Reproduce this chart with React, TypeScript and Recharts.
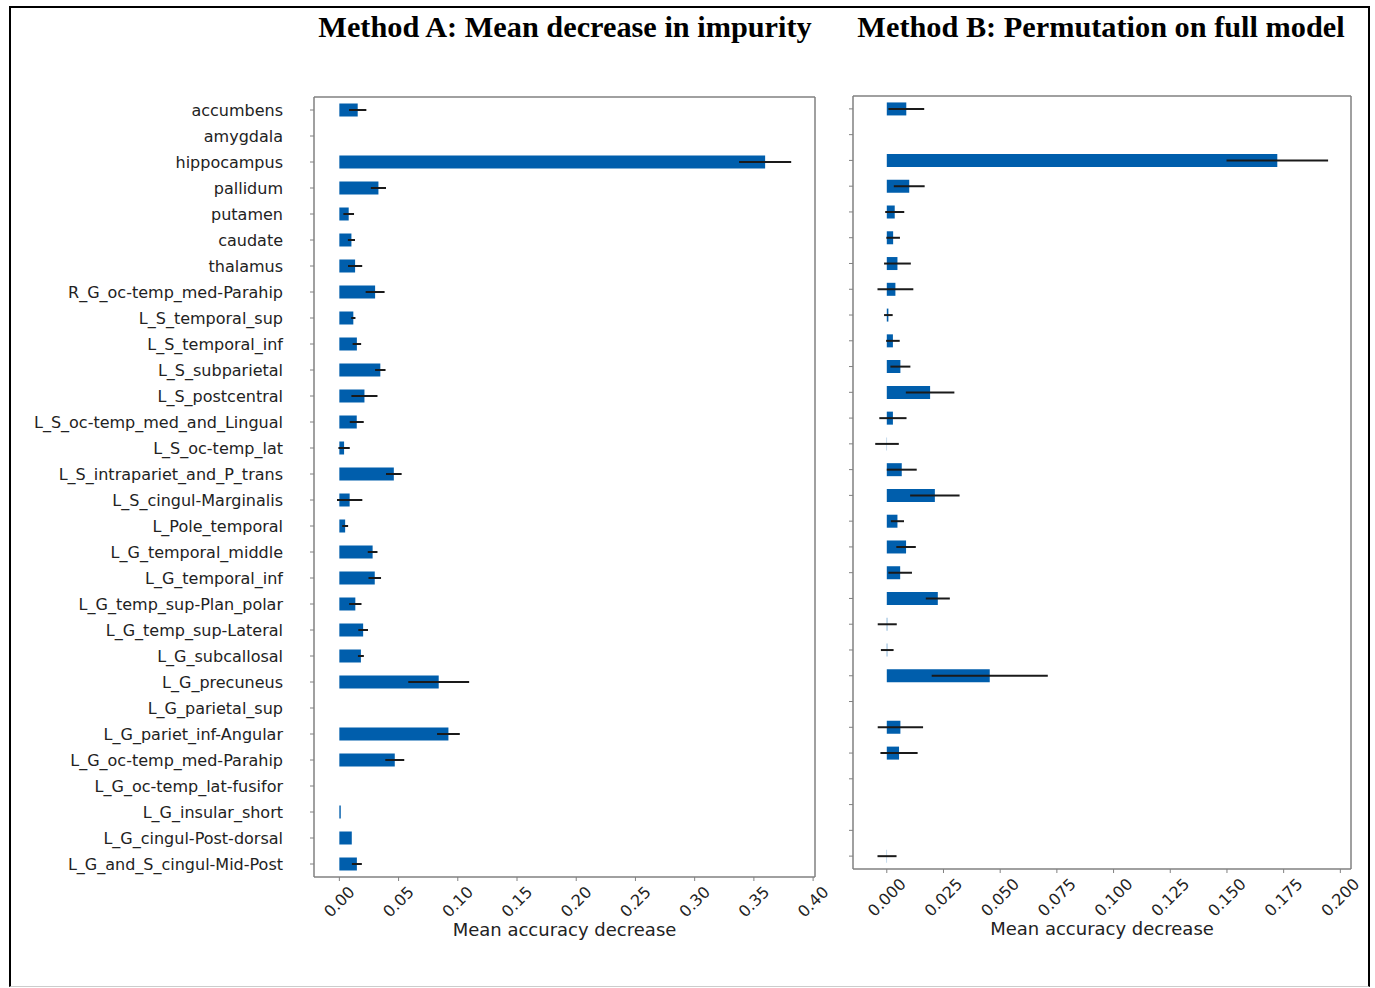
import React from "react";
import { Bar, BarChart, ErrorBar, XAxis, YAxis } from "recharts";

const regions = [
  "accumbens",
  "amygdala",
  "hippocampus",
  "pallidum",
  "putamen",
  "caudate",
  "thalamus",
  "R_G_oc-temp_med-Parahip",
  "L_S_temporal_sup",
  "L_S_temporal_inf",
  "L_S_subparietal",
  "L_S_postcentral",
  "L_S_oc-temp_med_and_Lingual",
  "L_S_oc-temp_lat",
  "L_S_intrapariet_and_P_trans",
  "L_S_cingul-Marginalis",
  "L_Pole_temporal",
  "L_G_temporal_middle",
  "L_G_temporal_inf",
  "L_G_temp_sup-Plan_polar",
  "L_G_temp_sup-Lateral",
  "L_G_subcallosal",
  "L_G_precuneus",
  "L_G_parietal_sup",
  "L_G_pariet_inf-Angular",
  "L_G_oc-temp_med-Parahip",
  "L_G_oc-temp_lat-fusifor",
  "L_G_insular_short",
  "L_G_cingul-Post-dorsal",
  "L_G_and_S_cingul-Mid-Post",
];

// Method A: mean decrease in impurity (null = region not used)
const impurityMean = [
  0.0155, null, 0.3595, 0.033, 0.0079, 0.0102, 0.0133, 0.0302, 0.0118, 0.0148,
  0.0346, 0.0212, 0.0147, 0.004, 0.046, 0.0087, 0.0049, 0.0281, 0.0299, 0.0135,
  0.0201, 0.0182, 0.0839, null, 0.0921, 0.0468, null, 0.0012, 0.0105, 0.0148,
];
const impurityStd = [
  0.0073, null, 0.022, 0.0064, 0.0045, 0.003, 0.006, 0.008, 0.0018, 0.0036,
  0.0044, 0.011, 0.0059, 0.0048, 0.0066, 0.0107, 0.0025, 0.0041, 0.0053, 0.0052,
  0.0041, 0.0025, 0.0257, null, 0.0096, 0.008, null, null, null, 0.0042,
];

// Method B: permutation importance on the full model
const permutationMean = [
  0.0086, null, 0.1722, 0.0099, 0.0035, 0.0028, 0.0047, 0.0038, 0.0007, 0.0027,
  0.006, 0.0191, 0.0027, 0.0001, 0.0066, 0.0212, 0.0047, 0.0085, 0.0059, 0.0225,
  0.0002, 0.0002, 0.0454, null, 0.006, 0.0054, null, null, null, 0.0001,
];
const permutationStd = [
  0.0079, null, 0.0224, 0.0068, 0.0042, 0.003, 0.0059, 0.0079, 0.0019, 0.003,
  0.0044, 0.0107, 0.006, 0.0052, 0.0066, 0.0109, 0.0029, 0.0043, 0.0052, 0.0053,
  0.0042, 0.0028, 0.0256, null, 0.01, 0.0082, null, null, null, 0.0042,
];

const impurityTicks = [0, 0.05, 0.1, 0.15, 0.2, 0.25, 0.3, 0.35, 0.4];
const permutationTicks = [0, 0.025, 0.05, 0.075, 0.1, 0.125, 0.15, 0.175, 0.2];

const BAR_COLOR = "#005EAC";
const SPINE = { stroke: "#808080", strokeWidth: 1.5 };
const FONT = "'DejaVu Sans', sans-serif";
const TEXT = "#222";

const impurityRows = regions.map((name, i) => ({
  name,
  value: impurityMean[i],
  err: impurityStd[i],
}));
const permutationRows = regions.map((name, i) => ({
  name,
  value: permutationMean[i],
  err: permutationStd[i],
}));

// matplotlib-style 45° tick label, its bounding box centred under the tick
function RotatedTick(props: any) {
  const { x, y, payload, digits } = props;
  const label = Number(payload.value).toFixed(digits);
  const w = label.length * 10.18 - 5.09;
  const cy = y + (w + 12) / (2 * Math.SQRT2);
  return (
    <text
      x={x}
      y={cy}
      transform={`rotate(-45 ${x} ${cy})`}
      textAnchor="middle"
      dominantBaseline="central"
      fontSize={16}
      fontFamily={FONT}
      fill={TEXT}
    >
      {label}
    </text>
  );
}

const axisLabel = (offset: number) => ({
  value: "Mean accuracy decrease",
  position: "insideBottom" as const,
  offset,
  fontSize: 18,
  fontFamily: FONT,
  fill: TEXT,
});

function ImpurityPanel() {
  return (
    <BarChart
      layout="vertical"
      width={850}
      height={960}
      data={impurityRows}
      margin={{ top: 96, right: 34, bottom: 23, left: 14 }}
      barCategoryGap="25%"
    >
      <XAxis
        type="number"
        domain={[-0.0214, 0.4016]}
        allowDataOverflow
        ticks={impurityTicks}
        interval={0}
        height={60}
        tickSize={4}
        tickMargin={4}
        stroke="#808080"
        axisLine={SPINE}
        tick={<RotatedTick digits={2} />}
        label={axisLabel(1)}
      />
      <XAxis
        xAxisId="top"
        orientation="top"
        type="number"
        domain={[-0.0214, 0.4016]}
        allowDataOverflow
        height={1}
        tick={false}
        tickLine={false}
        axisLine={SPINE}
      />
      <YAxis
        type="category"
        dataKey="name"
        width={300}
        interval={0}
        tickSize={4}
        tickMargin={27}
        stroke="#808080"
        axisLine={SPINE}
        tick={{ fontSize: 16, fontFamily: FONT, fill: TEXT }}
      />
      <YAxis
        yAxisId="right"
        orientation="right"
        type="category"
        dataKey="name"
        width={1}
        tick={false}
        tickLine={false}
        axisLine={SPINE}
      />
      <Bar dataKey="value" fill={BAR_COLOR} isAnimationActive={false}>
        <ErrorBar dataKey="err" direction="x" width={0} stroke="#1a1a1a" strokeWidth={2} />
      </Bar>
    </BarChart>
  );
}

function PermutationPanel() {
  return (
    <BarChart
      layout="vertical"
      width={540}
      height={960}
      data={permutationRows}
      margin={{ top: 95, right: 28, bottom: 24, left: 3 }}
      barCategoryGap="25%"
    >
      <XAxis
        type="number"
        domain={[-0.0149, 0.2047]}
        allowDataOverflow
        ticks={permutationTicks}
        interval={0}
        height={67}
        tickSize={4}
        tickMargin={4}
        stroke="#808080"
        axisLine={SPINE}
        tick={<RotatedTick digits={3} />}
        label={axisLabel(1)}
      />
      <XAxis
        xAxisId="top"
        orientation="top"
        type="number"
        domain={[-0.0149, 0.2047]}
        allowDataOverflow
        height={1}
        tick={false}
        tickLine={false}
        axisLine={SPINE}
      />
      <YAxis
        type="category"
        dataKey="name"
        width={10}
        interval={0}
        tickSize={4}
        stroke="#808080"
        axisLine={SPINE}
        tick={() => <g />}
      />
      <YAxis
        yAxisId="right"
        orientation="right"
        type="category"
        dataKey="name"
        width={1}
        tick={false}
        tickLine={false}
        axisLine={SPINE}
      />
      <Bar dataKey="value" fill={BAR_COLOR} isAnimationActive={false}>
        <ErrorBar dataKey="err" direction="x" width={0} stroke="#1a1a1a" strokeWidth={2} />
      </Bar>
    </BarChart>
  );
}

export default function App() {
  return (
    <div
      style={{
        position: "absolute",
        left: 0,
        top: 0,
        width: 1375,
        height: 988,
        overflow: "hidden",
        background: "#fff",
      }}
    >
      <div
        style={{
          position: "absolute",
          left: 9,
          top: 6,
          width: 1357,
          height: 978,
          borderTop: "2px solid #000",
          borderLeft: "2px solid #000",
          borderRight: "2px solid #000",
          borderBottom: "1px solid #ccc",
        }}
      />
      <svg
        width={1375}
        height={60}
        style={{ position: "absolute", left: 0, top: 0 }}
      >
        <g fontFamily="'Liberation Serif', 'Times New Roman', serif" fontWeight="bold" fontSize={30.3} fill="#000">
          <text x={565} y={37} textAnchor="middle">
            Method A: Mean decrease in impurity
          </text>
          <text x={1101} y={37} textAnchor="middle">
            Method B: Permutation on full model
          </text>
        </g>
      </svg>
      <div style={{ position: "absolute", left: 0, top: 0 }}>
        <ImpurityPanel />
      </div>
      <div style={{ position: "absolute", left: 840, top: 0 }}>
        <PermutationPanel />
      </div>
    </div>
  );
}
